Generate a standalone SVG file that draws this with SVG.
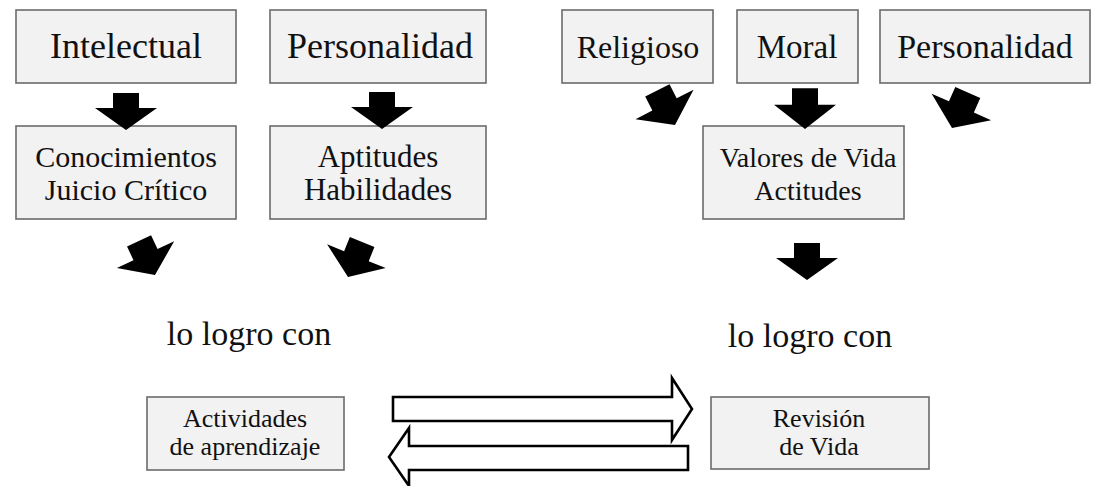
<svg xmlns="http://www.w3.org/2000/svg" width="1101" height="486" viewBox="0 0 1101 486">
<defs>
<style>
.box{fill:#f2f2f2;stroke:#6b6b6b;stroke-width:1.6}
.t{font-family:"Liberation Serif","Times New Roman",serif;fill:#111;text-anchor:middle}
.hollow{fill:#fff;stroke:#000;stroke-width:2.6;stroke-linejoin:miter}
</style>
<path id="dn" d="M-13,-37 L13,-37 L13,-22 L31,-22 L0,0 L-31,-22 L-13,-22 Z" fill="#000"/>
</defs>
<rect width="1101" height="486" fill="#fff"/>
<g id="intelectual"><rect class="box" x="16" y="10" width="220" height="73"/><text class="t" x="126" y="58" font-size="36">Intelectual</text></g>
<g id="personalidad1"><rect class="box" x="270" y="10" width="216" height="73"/><text class="t" x="380" y="58" font-size="36">Personalidad</text></g>
<g id="conocimientos"><rect class="box" x="16" y="126" width="220" height="93"/><text class="t" x="126" y="167" font-size="30">Conocimientos</text><text class="t" x="126" y="200" font-size="30">Juicio Crítico</text></g>
<g id="aptitudes"><rect class="box" x="270" y="126" width="216" height="93"/><text class="t" x="378" y="167" font-size="31">Aptitudes</text><text class="t" x="378" y="200" font-size="31">Habilidades</text></g>
<g id="religioso"><rect class="box" x="562" y="10" width="151" height="73"/><text class="t" x="638" y="58" font-size="32">Religioso</text></g>
<g id="moral"><rect class="box" x="737" y="10" width="121" height="73"/><text class="t" x="797" y="58" font-size="33">Moral</text></g>
<g id="personalidad2"><rect class="box" x="880" y="10" width="210" height="73"/><text class="t" x="985" y="58" font-size="34">Personalidad</text></g>
<g id="valores"><rect class="box" x="703" y="126" width="201" height="93"/><text class="t" x="808" y="167" font-size="28">Valores de Vida</text><text class="t" x="808" y="200" font-size="28">Actitudes</text></g>
<g id="logro1"><text class="t" x="249" y="345" font-size="34">lo logro con</text></g>
<g id="logro2"><text class="t" x="810" y="347" font-size="34">lo logro con</text></g>
<g id="actividades"><rect class="box" x="147" y="397" width="197" height="73"/><text class="t" x="245" y="427" font-size="26">Actividades</text><text class="t" x="245" y="455" font-size="26">de aprendizaje</text></g>
<g id="revision"><rect class="box" x="711" y="397" width="218" height="72"/><text class="t" x="819" y="427" font-size="26">Revisión</text><text class="t" x="819" y="455" font-size="26">de Vida</text></g>
<g id="connectors">
<use href="#dn" transform="translate(126,130)"/>
<use href="#dn" transform="translate(382,129)"/>
<use href="#dn" transform="translate(805,129) scale(1,1.1)"/>
<use href="#dn" transform="translate(807,280)"/>
<use href="#dn" transform="translate(675,125) rotate(-27) scale(1.05,1.05)"/>
<use href="#dn" transform="translate(952,128) rotate(24) scale(1.05,1.05)"/>
<use href="#dn" transform="translate(155,275) rotate(-25) scale(1.02,1.02)"/>
<use href="#dn" transform="translate(348,277) rotate(22) scale(1.02,1.02)"/>
<path class="hollow" d="M393,397 L672,397 L672,378 L692,409 L672,440 L672,421 L393,421 Z"/>
<path class="hollow" d="M688,446 L409,446 L409,428 L389,457 L409,486 L409,470 L688,470 Z"/>
</g>
</svg>
